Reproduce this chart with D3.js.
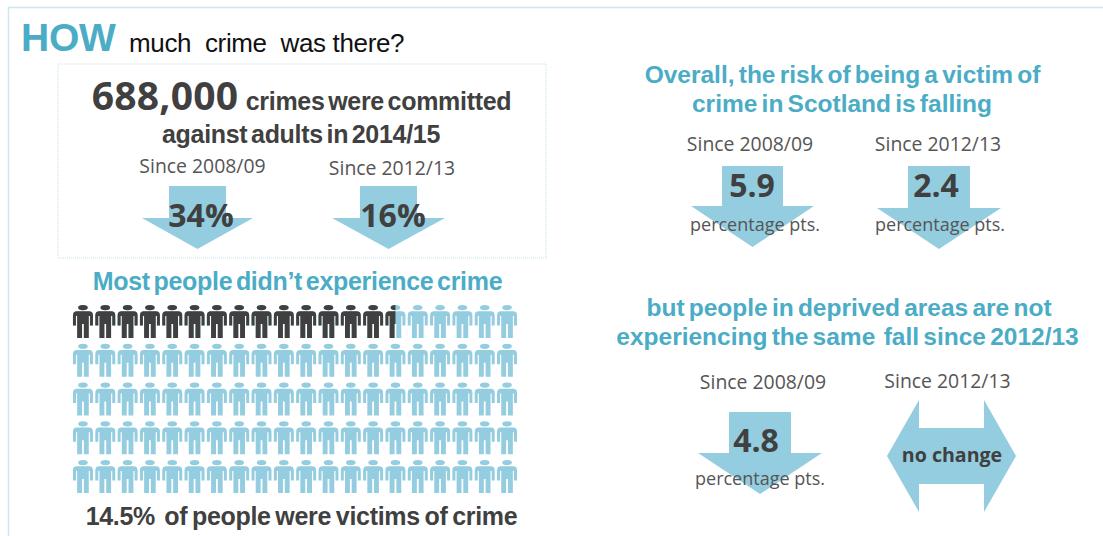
<!DOCTYPE html>
<html>
<head>
<meta charset="utf-8">
<script src="https://cdn.jsdelivr.net/npm/d3@7"></script>
<style>
  html, body { margin: 0; padding: 0; background: #fff; }
  svg { display: block; }
  text { white-space: pre; }
</style>
</head>
<body>
<svg id="chart" width="1103" height="536"></svg>
<script>
// Survey figures
const periods = ["Since 2008/09", "Since 2012/13"];
const crimeChange = [34, 16];
const riskChange = [5.9, 2.4];
const deprivedChange = [4.8];
const totalCrimes = 688000;
const victimRate = 14.5;
const peopleRows = 5;
const peoplePerRow = 20;

// Palette and font stacks
const TEAL = "#4bacc6", SKY = "#93cddf", INK = "#404040", GREY = "#555", FRAME = "#cfe8f0";
const ARIAL = "'Liberation Sans', Arial, sans-serif";
const SEGOE = "'Open Sans', 'Noto Sans', sans-serif";

const svg = d3.select("#chart");

function label(txt, x, y, opts) {
  const o = Object.assign({ size: 18, weight: 400, fill: INK, family: ARIAL, anchor: "middle", spacing: 0, words: 0 }, opts);
  return svg.append("text")
    .attr("x", x).attr("y", y)
    .attr("text-anchor", o.anchor)
    .attr("font-family", o.family)
    .attr("font-size", o.size)
    .attr("font-weight", o.weight)
    .attr("letter-spacing", o.spacing)
    .attr("word-spacing", o.words)
    .attr("fill", o.fill)
    .text(txt);
}

// Shared text styles
const boldLine = { size: 25, weight: 700, spacing: -0.3, words: -3 };
const tealLine = { size: 24.5, weight: 700, fill: TEAL, words: -2.6 };
const since = { size: 19.4, family: SEGOE, fill: GREY };
const bigValue = { size: 32, weight: 700, family: SEGOE };
const unit = { size: 18, family: SEGOE, fill: GREY };

// Outer frame, open on the right and bottom
svg.append("path").attr("d", "M8.5,536 V7.5 H1103")
  .attr("fill", "none").attr("stroke", FRAME).attr("stroke-width", 1.5);

// Heading
label("HOW", 21, 51, { size: 39, weight: 700, fill: TEAL, anchor: "start", spacing: -0.2 });
label("much  crime  was there?", 129, 52, { size: 26, fill: "#111", anchor: "start", spacing: -0.35 });

// Headline box
svg.append("rect").attr("x", 58).attr("y", 64).attr("width", 488).attr("height", 194)
  .attr("fill", "none").attr("stroke", "#c5e3ec").attr("stroke-width", 1).attr("stroke-dasharray", "1 1");

label(d3.format(",")(totalCrimes), 165, 110, { size: 39, weight: 700, family: SEGOE, spacing: 0.2 });
label("crimes were committed", 378.5, 110, boldLine);
label("against adults in 2014/15", 301, 143, boldLine);

// Block arrow pointing down
function downArrow(shaftL, shaftR, headL, headR, top, neck, tip) {
  const tipX = (headL + headR) / 2;
  svg.append("path")
    .attr("d", d3.line()([[shaftL, top], [shaftR, top], [shaftR, neck], [headR, neck], [tipX, tip], [headL, neck], [shaftL, neck]]) + "Z")
    .attr("fill", SKY);
}

label(periods[0], 202.5, 173, since);
label(periods[1], 392, 175, since);
downArrow(169, 226, 142, 253, 186, 218, 249);
downArrow(360, 417, 332, 445, 186, 218, 249);
label(crimeChange[0] + "%", 201, 227, bigValue);
label(crimeChange[1] + "%", 393, 227, bigValue);

// Pictogram of 100 people, shaded up to the victimisation rate
label("Most people didn\u2019t experience crime", 297.5, 290, boldLine);
svg.select("text:last-of-type").attr("fill", TEAL);

const figure = "M4,6.3 H16 Q20,6.3 20,10.5 V20.5 H17 V11 H15.8 V33 H10.9 V19 H9.1 V33 H4.2 V11 H3 V20.5 H0 V10.5 Q0,6.3 4,6.3 Z"
  + " M5.2,2.6 A4.8,2.6 0 1 0 14.8,2.6 A4.8,2.6 0 1 0 5.2,2.6 Z";

const colX = d3.scaleLinear().domain([0, peoplePerRow]).range([71.8, 518.2]);
const rowY = d3.scaleLinear().domain([0, peopleRows - 1]).range([305, 460]);
const people = d3.range(peopleRows * peoplePerRow).map(i => ({
  row: Math.floor(i / peoplePerRow),
  col: i % peoplePerRow
}));

function drawPeople(group, list, fill) {
  group.selectAll("path").data(list).join("path")
    .attr("d", figure)
    .attr("fill", fill)
    .attr("transform", d => `translate(${colX(d.col + 0.5) - 10},${rowY(d.row)})`);
}

drawPeople(svg.append("g"), people, SKY);

const shadedEnd = colX(victimRate * peopleRows * peoplePerRow / 100 % peoplePerRow);
svg.append("clipPath").attr("id", "victims").append("rect")
  .attr("x", 0).attr("y", 0).attr("width", shadedEnd).attr("height", 536);
drawPeople(
  svg.append("g").attr("clip-path", "url(#victims)"),
  people.filter(d => d.row === 0),
  INK
);

label(victimRate + "%  of people were victims of crime", 301.5, 525, { size: 25, weight: 700, spacing: -0.3, words: -2 });

// Overall risk panel
label("Overall, the risk of being a victim of", 842.5, 83, tealLine);
label("crime in Scotland is falling", 842, 112, tealLine);
label(periods[0], 750, 151, since);
label(periods[1], 938, 151, since);
downArrow(722, 783, 691, 814, 166, 206, 247);
downArrow(908, 970, 877, 1001, 166, 208, 249);
label(riskChange[0], 752, 197, bigValue);
label(riskChange[1], 936, 197, bigValue);
label("percentage pts.", 755, 231, unit);
label("percentage pts.", 940, 231, unit);

// Deprived areas panel
label("but people in deprived areas are not", 849, 316, tealLine);
label("experiencing the same  fall since 2012/13", 847.5, 345, tealLine);
label(periods[0], 763, 389, since);
label(periods[1], 947.5, 388, since);
downArrow(729, 791, 698, 822, 412, 453, 494);
label(deprivedChange[0], 756, 452, bigValue);
label("percentage pts.", 760, 485, unit);

// Two-way arrow for the flat trend
svg.append("path")
  .attr("d", d3.line()([[887, 456], [919, 400], [919, 428], [984, 428], [984, 400], [1016, 456], [984, 512], [984, 484], [919, 484], [919, 512]]) + "Z")
  .attr("fill", SKY);
label("no change", 952, 462, { size: 19.6, weight: 700, family: SEGOE });
</script>
</body>
</html>
